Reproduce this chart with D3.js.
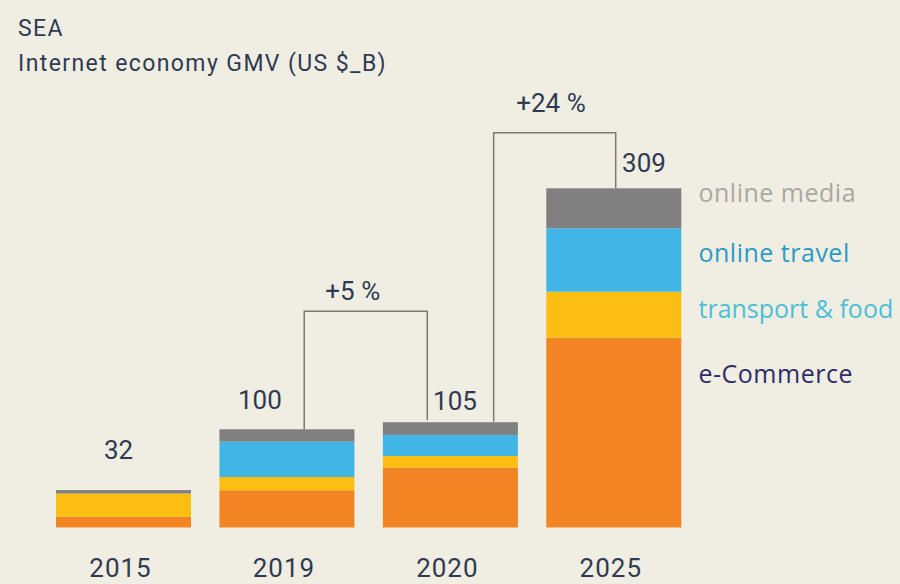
<!DOCTYPE html>
<html>
<head>
<meta charset="utf-8">
<script src="https://cdn.jsdelivr.net/npm/d3@7"></script>
<style>
  html, body { margin: 0; padding: 0; background: #f0eee3; }
  svg { display: block; }
</style>
</head>
<body>
<div id="chart"></div>
<script>
// ---- data ----
const years = ["2015", "2019", "2020", "2025"];
const seriesNames = ["e-Commerce", "transport & food", "online travel", "online media"];
const eCommerce      = [9.8, 33.9, 54.5, 172.9];
const transportFood  = [21.2, 12.1, 10.7, 41.9];
const onlineTravel   = [0, 32.2, 19.1, 57.8];
const onlineMedia    = [3.1, 11.3, 11.6, 36.4];
const totalLabels    = ["32", "100", "105", "309"];
const growth = [
  { from: "2019", to: "2020", label: "+5 %" },
  { from: "2020", to: "2025", label: "+24 %" }
];

// ---- layout ----
const W = 900, H = 584;
const barColors = ["#f28522", "#fcbe13", "#41b6e6", "#808080"];
const legendColors = ["#2e2b69", "#4bbfd6", "#2a9bc6", "#a9a8a1"];
const textColor = "#2f3a52";
const lineColor = "#7c7a70";

const svg = d3.select("#chart").append("svg")
  .attr("width", W).attr("height", H);

svg.append("rect").attr("width", W).attr("height", H).attr("fill", "#f0eee3");

const x = d3.scaleBand().domain(years).range([56, 681.3]).paddingInner(0.174).paddingOuter(0);
const y = d3.scaleLinear().domain([0, 309]).range([527.5, 188.3]);

const table = years.map((yr, i) => ({
  year: yr,
  "e-Commerce": eCommerce[i],
  "transport & food": transportFood[i],
  "online travel": onlineTravel[i],
  "online media": onlineMedia[i]
}));
const stack = d3.stack().keys(seriesNames)(table);

svg.append("g").selectAll("g")
  .data(stack).join("g")
  .attr("fill", (d, i) => barColors[i])
  .selectAll("rect")
  .data(d => d).join("rect")
  .attr("x", d => x(d.data.year))
  .attr("width", x.bandwidth())
  .attr("y", d => y(d[1]))
  .attr("height", d => Math.max(0, y(d[0]) - y(d[1])));

const totals = years.map((yr, i) => eCommerce[i] + transportFood[i] + onlineTravel[i] + onlineMedia[i]);
const topY = yr => y(totals[years.indexOf(yr)]);
const cx = yr => x(yr) + x.bandwidth() / 2;

// growth brackets
const bracketLayout = [
  { dx1: 17.3, dx2: -23.1, topAbove: 111, gap1: 0, gap2: 2, ldx: -13, ldy: -10.8 },
  { dx1: 43.3, dx2: 1.9, topAbove: 55.6, gap1: 0.6, gap2: 0, ldx: -3.7, ldy: -20.4 }
];
growth.forEach((g, i) => {
  const L = bracketLayout[i];
  const x1 = cx(g.from) + L.dx1, x2 = cx(g.to) + L.dx2;
  const yTop = topY(g.to) - L.topAbove;
  const y1 = topY(g.from) - L.gap1, y2 = topY(g.to) - L.gap2;
  svg.append("path")
    .attr("d", `M${x1},${y1}V${yTop}H${x2}V${y2}`)
    .attr("fill", "none").attr("stroke", lineColor).attr("stroke-width", 1.5);
  svg.append("text")
    .attr("x", (x1 + x2) / 2 + L.ldx).attr("y", yTop + L.ldy)
    .attr("text-anchor", "middle")
    .attr("font-family", "Roboto").attr("font-size", 26).attr("fill", textColor)
    .text(g.label);
});

// total labels
const labelOffsets = [[-4.9, -31], [-27, -20.3], [4.6, -12.3], [30.2, -16]];
svg.append("g").selectAll("text")
  .data(years).join("text")
  .attr("x", (d, i) => cx(d) + labelOffsets[i][0])
  .attr("y", (d, i) => topY(d) + labelOffsets[i][1])
  .attr("text-anchor", "middle")
  .attr("font-family", "Roboto").attr("font-size", 26).attr("fill", textColor)
  .text((d, i) => totalLabels[i]);

// x axis labels
const xAxis = d3.axisBottom(x).tickSize(0).tickPadding(0);
const gx = svg.append("g").attr("transform", "translate(-3,557)").call(xAxis);
gx.select(".domain").remove();
gx.selectAll("text")
  .attr("font-family", "Roboto").attr("font-size", 26).attr("fill", textColor)
  .attr("letter-spacing", 1)
  .attr("dy", "0.75em");

// legend
const legendY = [202.3, 261.7, 318, 382.7];
const legendOrder = [3, 2, 1, 0];
svg.append("g").selectAll("text")
  .data(legendOrder).join("text")
  .attr("x", 698.5)
  .attr("y", (d, i) => legendY[i])
  .attr("font-family", "Open Sans").attr("font-size", 25)
  .attr("letter-spacing", d => d === 1 ? 0 : 0.5)
  .attr("fill", d => legendColors[d])
  .text(d => seriesNames[d]);

// title
svg.append("text").attr("x", 18).attr("y", 36)
  .attr("font-family", "Roboto").attr("font-size", 23).attr("fill", textColor)
  .attr("letter-spacing", 1.4)
  .text("SEA");
svg.append("text").attr("x", 18).attr("y", 71)
  .attr("font-family", "Roboto").attr("font-size", 23).attr("fill", textColor)
  .attr("letter-spacing", 1.4)
  .text("Internet economy GMV (US $_B)");
</script>
</body>
</html>
